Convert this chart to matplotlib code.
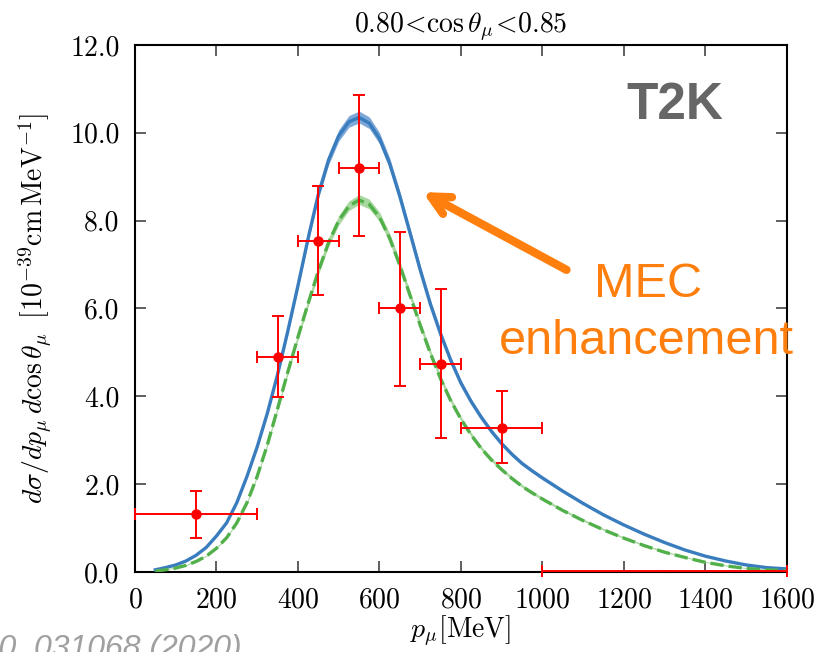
import matplotlib
matplotlib.use("Agg")
import matplotlib.pyplot as plt
import numpy as np

plt.rcParams['mathtext.fontset'] = 'cm'
plt.rcParams['font.family'] = 'serif'
plt.rcParams['font.serif'] = ['cmr10', 'DejaVu Serif']
plt.rcParams['axes.formatter.use_mathtext'] = True

# T2K data points
p_data = [150, 350, 450, 550, 650, 750, 900, 1300]
xs_data = [1.32, 4.90, 7.54, 9.21, 6.01, 4.74, 3.28, 0.03]
x_lo = [150, 50, 50, 50, 50, 50, 100, 300]
x_hi = [150, 50, 50, 50, 50, 50, 100, 300]
y_lo = [0.55, 0.91, 1.23, 1.56, 1.77, 1.69, 0.80, 0.0]
y_hi = [0.52, 0.94, 1.24, 1.64, 1.74, 1.70, 0.84, 0.0]

# model curves (blue: with MEC, green dashed: without)
p_model = [50, 75, 100, 125, 150, 175, 200, 225, 250, 275, 300, 325, 350, 375, 400,
           425, 450, 475, 500, 525, 550, 575, 600, 625, 650, 675, 700, 725, 750, 775,
           800, 825, 850, 875, 900, 925, 950, 975, 1000, 1050, 1100, 1150, 1200, 1250,
           1300, 1350, 1400, 1450, 1500, 1550, 1600]
xs_blue = [0.05, 0.10, 0.16, 0.25, 0.38, 0.56, 0.82, 1.12, 1.58, 2.18, 2.85, 3.62, 4.50, 5.48, 6.52,
           7.60, 8.60, 9.38, 9.93, 10.25, 10.35, 10.22, 9.87, 9.30, 8.55, 7.72, 6.88, 6.10, 5.42, 4.82,
           4.30, 3.88, 3.52, 3.20, 2.92, 2.68, 2.47, 2.30, 2.14, 1.84, 1.56, 1.30, 1.07, 0.86,
           0.67, 0.50, 0.36, 0.25, 0.16, 0.10, 0.07]
xs_green = [0.02, 0.05, 0.09, 0.15, 0.24, 0.36, 0.54, 0.78, 1.12, 1.58, 2.18, 2.90, 3.72, 4.55, 5.35,
            6.12, 6.85, 7.50, 8.00, 8.33, 8.47, 8.37, 8.08, 7.60, 6.98, 6.30, 5.62, 4.98, 4.40, 3.90,
            3.48, 3.12, 2.81, 2.55, 2.33, 2.13, 1.95, 1.80, 1.66, 1.40, 1.17, 0.96, 0.77, 0.60,
            0.45, 0.33, 0.22, 0.14, 0.08, 0.05, 0.03]
band_frac = 0.012

blue = '#3a7dbf'
green = '#52b04a'
orange = '#ff7f0e'

fig = plt.figure(figsize=(8.26, 6.52), dpi=100)
ax = fig.add_axes([0.1634, 0.1227, 0.7893, 0.8083])

pm = np.array(p_model)
yb = np.array(xs_blue)
yg = np.array(xs_green)
ax.fill_between(pm, yb * (1 - band_frac), yb * (1 + band_frac) + 0.02, color='#7ea8d8', lw=0, zorder=2)
ax.plot(pm, yb, color=blue, lw=2.4, zorder=3)
ax.fill_between(pm, yg * (1 - band_frac), yg * (1 + band_frac) + 0.02, color='#a8d8a0', lw=0, zorder=2)
ax.plot(pm, yg, color=green, lw=2.4, ls=(0, (4, 1.5)), zorder=3)

ax.errorbar(p_data, xs_data, xerr=[x_lo, x_hi], yerr=[y_lo, y_hi], fmt='none',
            ecolor='red', elinewidth=1.4, capsize=4, capthick=1.4, zorder=4, clip_on=False)
ax.plot(p_data[:-1], xs_data[:-1], 'o', color='red', ms=6.5, zorder=5)

ax.set_xlim(0, 1600)
ax.set_ylim(0, 12)
ax.set_xticks(np.arange(0, 1601, 200))
ax.set_yticks(np.arange(0, 12.1, 2))
ax.set_yticklabels(['%.1f' % v for v in np.arange(0, 12.1, 2)])
ax.tick_params(direction='in', length=8, width=1.2, color='#444444', labelsize=20,
               top=True, right=True, pad=11)
for s in ax.spines.values():
    s.set_linewidth(1.5)

ax.set_title(r'$0.80\!<\!\cos\theta_\mu\!<\!0.85$', fontsize=20, pad=9)
ax.set_xlabel(r'$p_\mu$[MeV]', fontsize=20, labelpad=0)
ax.set_ylabel(r'$d\sigma/dp_\mu\,d\cos\theta_\mu\;\;[10^{-39}\mathrm{cm\,MeV^{-1}}]$',
              fontsize=20, labelpad=12)

ax.text(1325, 10.63, 'T2K', fontsize=37, fontweight='bold', color='#666666',
        family='Liberation Sans', ha='center', va='center')
ax.annotate('', xy=(700, 8.68), xytext=(1065, 6.85),
            arrowprops=dict(arrowstyle='->', color=orange, lw=6, mutation_scale=34))
ax.text(1259, 6.55, 'MEC', fontsize=35, color=orange, family='Liberation Sans',
        ha='center', va='center')
ax.text(1256, 5.25, 'enhancement', fontsize=35, color=orange, family='Liberation Sans',
        ha='center', va='center')

fig.text(0.293, -0.008, 'D 100, 031068 (2020)', fontsize=23, style='italic',
         color='#a0a0a0', family='Liberation Sans', ha='right', va='baseline')

fig.savefig('out.png', dpi=100)
